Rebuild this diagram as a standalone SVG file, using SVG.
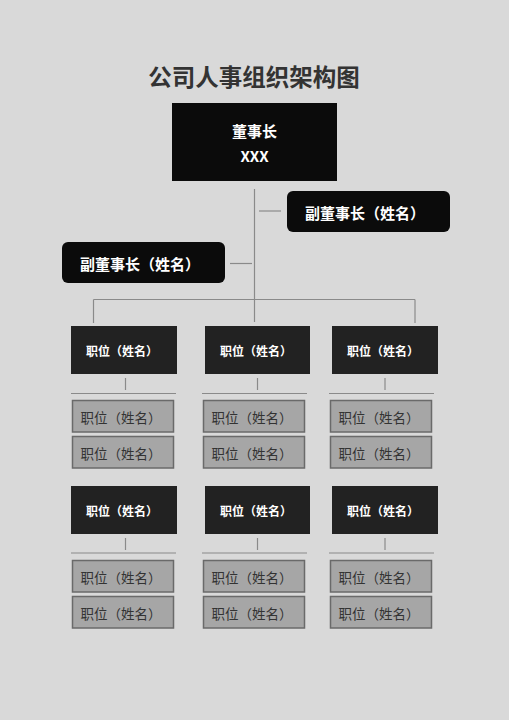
<svg xmlns="http://www.w3.org/2000/svg" width="509" height="720" viewBox="0 0 509 720">
<style>
.t{font-family:"Noto Sans CJK SC","Noto Sans",sans-serif;text-anchor:middle;dominant-baseline:central}
.top{fill:#0b0b0b}
.pos{fill:#222222}
.sub{fill:#a6a6a6;stroke:#6a6a6a;stroke-width:1.5}
.w{fill:#ffffff;font-weight:bold}
.g{fill:#333333;font-size:13.5px}
.c line{stroke:#8a8a8a;stroke-width:1.2;fill:none}
</style>
<rect width="509" height="720" fill="#d9d9d9"/>
<text class="t" x="254" y="76" font-size="23.5" font-weight="bold" fill="#333333">公司人事组织架构图</text>

<g class="c" id="connectors">
<line x1="254.5" y1="189" x2="254.5" y2="322"/>
<line x1="259" y1="211" x2="281" y2="211"/>
<line x1="230" y1="263.5" x2="252" y2="263.5"/>
<line x1="93.5" y1="299.5" x2="415" y2="299.5"/>
<line x1="93.5" y1="299.5" x2="93.5" y2="323"/>
<line x1="415" y1="299.5" x2="415" y2="323"/>
<line x1="125.5" y1="378" x2="125.5" y2="390"/>
<line x1="257.5" y1="378" x2="257.5" y2="390"/>
<line x1="385" y1="378" x2="385" y2="390"/>
<line x1="71" y1="393.5" x2="176" y2="393.5"/>
<line x1="202" y1="393.5" x2="307" y2="393.5"/>
<line x1="329" y1="393.5" x2="434" y2="393.5"/>
<line x1="125.5" y1="538" x2="125.5" y2="550"/>
<line x1="257.5" y1="538" x2="257.5" y2="550"/>
<line x1="385" y1="538" x2="385" y2="550"/>
<line x1="71" y1="553" x2="176" y2="553"/>
<line x1="202" y1="553" x2="307" y2="553"/>
<line x1="329" y1="553" x2="434" y2="553"/>
</g>

<g id="chairman">
<rect class="top" x="172" y="103" width="165" height="78"/>
<text class="t w" x="254.5" y="130" font-size="15">董事长</text>
<text class="t w" x="254.5" y="155" font-size="15">XXX</text>
</g>
<g id="vice-right">
<rect class="top" x="287" y="191" width="163" height="41" rx="6"/>
<text class="t w" x="365" y="212" font-size="15">副董事长（姓名）</text>
</g>
<g id="vice-left">
<rect class="top" x="62" y="242" width="163" height="41" rx="6"/>
<text class="t w" x="140" y="263.5" font-size="15">副董事长（姓名）</text>
</g>

<g id="pos-1">
<rect class="pos" x="71" y="326" width="106" height="48"/>
<text class="t w" x="122" y="350.5" font-size="12">职位（姓名）</text>
</g>
<g id="pos-2">
<rect class="pos" x="205" y="326" width="105" height="48"/>
<text class="t w" x="256" y="350.5" font-size="12">职位（姓名）</text>
</g>
<g id="pos-3">
<rect class="pos" x="332" y="326" width="106" height="48"/>
<text class="t w" x="383" y="350.5" font-size="12">职位（姓名）</text>
</g>

<g id="sub-1a"><rect class="sub" x="72.5" y="400.5" width="101" height="31.5"/><text class="t g" x="121" y="416.5">职位（姓名）</text></g>
<g id="sub-1b"><rect class="sub" x="72.5" y="436.5" width="101" height="31.5"/><text class="t g" x="121" y="452.5">职位（姓名）</text></g>
<g id="sub-2a"><rect class="sub" x="203.5" y="400.5" width="101" height="31.5"/><text class="t g" x="252" y="416.5">职位（姓名）</text></g>
<g id="sub-2b"><rect class="sub" x="203.5" y="436.5" width="101" height="31.5"/><text class="t g" x="252" y="452.5">职位（姓名）</text></g>
<g id="sub-3a"><rect class="sub" x="330.5" y="400.5" width="101" height="31.5"/><text class="t g" x="379" y="416.5">职位（姓名）</text></g>
<g id="sub-3b"><rect class="sub" x="330.5" y="436.5" width="101" height="31.5"/><text class="t g" x="379" y="452.5">职位（姓名）</text></g>

<g id="pos-4">
<rect class="pos" x="71" y="486" width="106" height="48"/>
<text class="t w" x="122" y="510.5" font-size="12">职位（姓名）</text>
</g>
<g id="pos-5">
<rect class="pos" x="205" y="486" width="105" height="48"/>
<text class="t w" x="256" y="510.5" font-size="12">职位（姓名）</text>
</g>
<g id="pos-6">
<rect class="pos" x="332" y="486" width="106" height="48"/>
<text class="t w" x="383" y="510.5" font-size="12">职位（姓名）</text>
</g>

<g id="sub-4a"><rect class="sub" x="72.5" y="560.5" width="101" height="31.5"/><text class="t g" x="121" y="576.5">职位（姓名）</text></g>
<g id="sub-4b"><rect class="sub" x="72.5" y="596.5" width="101" height="31.5"/><text class="t g" x="121" y="612.5">职位（姓名）</text></g>
<g id="sub-5a"><rect class="sub" x="203.5" y="560.5" width="101" height="31.5"/><text class="t g" x="252" y="576.5">职位（姓名）</text></g>
<g id="sub-5b"><rect class="sub" x="203.5" y="596.5" width="101" height="31.5"/><text class="t g" x="252" y="612.5">职位（姓名）</text></g>
<g id="sub-6a"><rect class="sub" x="330.5" y="560.5" width="101" height="31.5"/><text class="t g" x="379" y="576.5">职位（姓名）</text></g>
<g id="sub-6b"><rect class="sub" x="330.5" y="596.5" width="101" height="31.5"/><text class="t g" x="379" y="612.5">职位（姓名）</text></g>
</svg>
